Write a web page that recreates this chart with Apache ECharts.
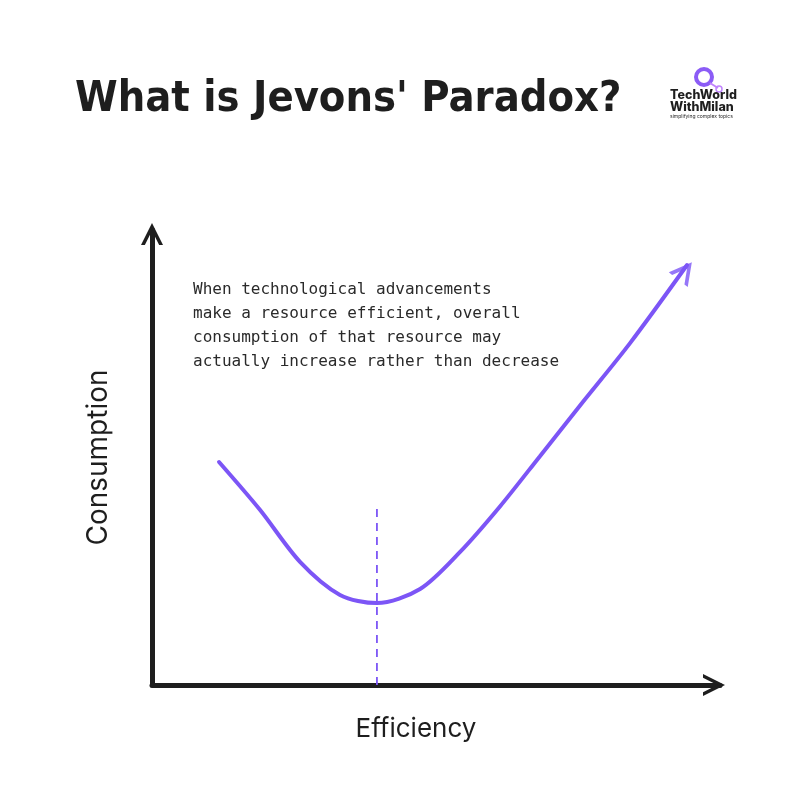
<!DOCTYPE html>
<html>
<head>
<meta charset="utf-8">
<script src="https://cdn.jsdelivr.net/npm/echarts@6/dist/echarts.min.js"></script>
<style>html,body{margin:0;padding:0;background:#fff;}#c{width:790px;height:791px;}</style>
</head>
<body>
<div id="c"></div>
<script>
// Conceptual Jevons curve: efficiency (x) vs consumption (y), 0-100 scale
const curveX = [11.8, 19.0, 26.1, 33.1, 39.6, 47.2, 54.2, 61.3, 68.3, 75.4, 84.2, 94.2];
const curveY = [49.0, 38.5, 27.0, 19.8, 18.0, 21.1, 29.2, 39.3, 50.3, 61.5, 75.2, 92.3];
const dashX = [39.6, 39.6];
const dashY = [0, 39.3];
const titleText = "What is Jevons' Paradox?";
const xName = "Efficiency";
const yName = "Consumption";
const noteLines = [
  "When technological advancements",
  "make a resource efficient, overall",
  "consumption of that resource may",
  "actually increase rather than decrease"
];

const purple = '#7c55f6';
const ink = '#1e1e1e';
const chevron = 'path://M0,20 L10,0 L20,20 L16.5,20 L10,7 L3.5,20 Z';

const curve = curveX.map((x, i) => [x, curveY[i]]);
const dash = dashX.map((x, i) => [x, dashY[i]]);
const last = curve[curve.length - 1];

const chart = echarts.init(document.getElementById('c'), null, {renderer: 'canvas'});
chart.setOption({
  backgroundColor: '#ffffff',
  animation: false,
  title: {
    text: titleText,
    left: 70, top: 73,
    textStyle: {fontFamily: 'DejaVu Sans Condensed', fontWeight: 'bold', fontSize: 43, color: ink}
  },
  grid: {left: 152, top: 230, right: 70, bottom: 106, containLabel: false},
  xAxis: {
    type: 'value', min: 0, max: 100,
    name: xName, nameLocation: 'middle', nameGap: 31,
    nameTextStyle: {fontFamily: 'Inter', fontSize: 26, color: ink, padding: [0, 40, 0, 0]},
    axisLine: {onZero: false, symbol: ['none', chevron], symbolSize: [22, 26], symbolOffset: [0, -6],
      lineStyle: {color: ink, width: 5}},
    axisTick: {show: false}, axisLabel: {show: false}, splitLine: {show: false}
  },
  yAxis: {
    type: 'value', min: 0, max: 100,
    name: yName, nameLocation: 'middle', nameGap: 39, nameRotate: 90,
    nameTextStyle: {fontFamily: 'Inter', fontSize: 28, color: ink},
    axisLine: {onZero: false, symbol: ['none', chevron], symbolSize: [22, 28], symbolOffset: [0, -4],
      lineStyle: {color: ink, width: 5}},
    axisTick: {show: false}, axisLabel: {show: false}, splitLine: {show: false}
  },
  series: [
    {
      type: 'line', data: dash, symbol: 'none', silent: true,
      lineStyle: {color: purple, width: 1.8, type: [8, 6]}
    },
    {
      type: 'line', data: curve, smooth: 0.3, symbol: 'none', silent: true,
      lineStyle: {color: purple, width: 4, cap: 'round'}
    },
    {
      type: 'scatter', data: [last], silent: true,
      symbol: chevron, symbolSize: [24, 22], symbolRotate: -38, symbolOffset: [-2, 6],
      itemStyle: {color: purple}
    }
  ],
  graphic: [
    {
      type: 'text', left: 193, top: 278,
      style: {
        text: noteLines.join('\n'),
        fontFamily: 'DejaVu Sans Mono', fontSize: 16, lineHeight: 24, fill: '#2a2a2a'
      }
    },
    // logo
    {type: 'circle', shape: {cx: 704, cy: 77, r: 8}, style: {fill: 'none', stroke: '#8b5cf6', lineWidth: 4}},
    {type: 'line', shape: {x1: 710, y1: 83, x2: 718, y2: 88}, style: {stroke: '#c084fc', lineWidth: 2}},
    {type: 'circle', shape: {cx: 719, cy: 89, r: 3}, style: {fill: 'none', stroke: '#c084fc', lineWidth: 1.5}},
    {type: 'text', left: 670, top: 89, style: {text: 'TechWorld', fontFamily: 'Inter', fontWeight: 800, fontSize: 12.5, fill: ink}},
    {type: 'text', left: 670, top: 101, style: {text: 'WithMilan', fontFamily: 'Inter', fontWeight: 800, fontSize: 12.5, fill: ink}},
    {type: 'text', left: 670, top: 114, style: {text: 'simplifying complex topics', fontFamily: 'Inter', fontSize: 5, fill: ink}}
  ]
});
</script>
</body>
</html>
